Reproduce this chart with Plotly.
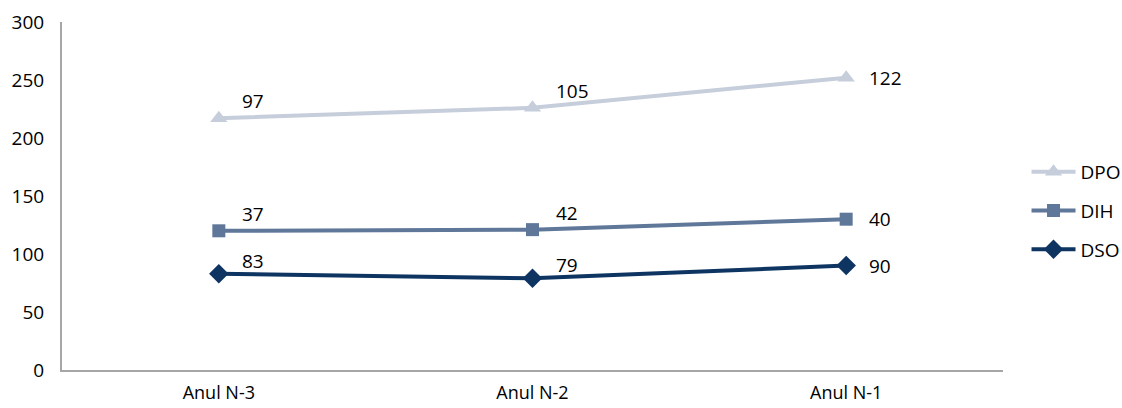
import plotly.graph_objects as go

categories = ["Anul N-3", "Anul N-2", "Anul N-1"]
dso = [83, 79, 90]
dih = [37, 42, 40]
dpo = [97, 105, 122]

series = [
    ("DSO", dso, "#0E3561", "diamond", 15, 13, 3),
    ("DIH", dih, "#5F7799", "square", 13, 17, 2),
    ("DPO", dpo, "#C6CDDB", "triangle-up", 15, 17, 1),
]

FONT = "Open Sans"
fig = go.Figure()
base = [0, 0, 0]
for name, vals, color, sym, ms, ysh, rank in series:
    fig.add_trace(go.Scatter(
        x=categories, y=vals, name=name, stackgroup="one", fill="none",
        mode="lines+markers", legendgroup=name, legendrank=rank,
        line=dict(color=color, width=4),
        marker=dict(symbol=sym, size=ms, color=color),
    ))
    base = [b + v for b, v in zip(base, vals)]
    for i, (c, v) in enumerate(zip(categories, vals)):
        last = i == len(categories) - 1
        fig.add_annotation(
            x=c, y=base[i], text=str(v), showarrow=False,
            xanchor="left", yanchor="middle",
            xshift=21, yshift=0 if last else ysh,
            font=dict(size=19, color="#000000", family=FONT),
        )

fig.update_layout(
    width=1122, height=408,
    margin=dict(l=62, r=119, t=22, b=38, autoexpand=False),
    plot_bgcolor="white", paper_bgcolor="white",
    font=dict(family=FONT, size=19, color="#000000"),
    legend=dict(x=1.025, y=0.457, xanchor="left", yanchor="middle",
                traceorder="grouped", font=dict(size=19),
                itemwidth=44, tracegroupgap=11),
    xaxis=dict(showgrid=False, showline=True, linecolor="#A6A6A6", linewidth=2,
               ticks="", tickfont=dict(size=18), range=[-0.5, 2.5],
               ticklabelstandoff=5),
    yaxis=dict(range=[0, 300], dtick=50, showgrid=False, showline=True,
               linecolor="#A6A6A6", linewidth=2, ticks="", tickfont=dict(size=19),
               zeroline=False, ticklabelstandoff=12),
)
fig.write_html("out.html")
